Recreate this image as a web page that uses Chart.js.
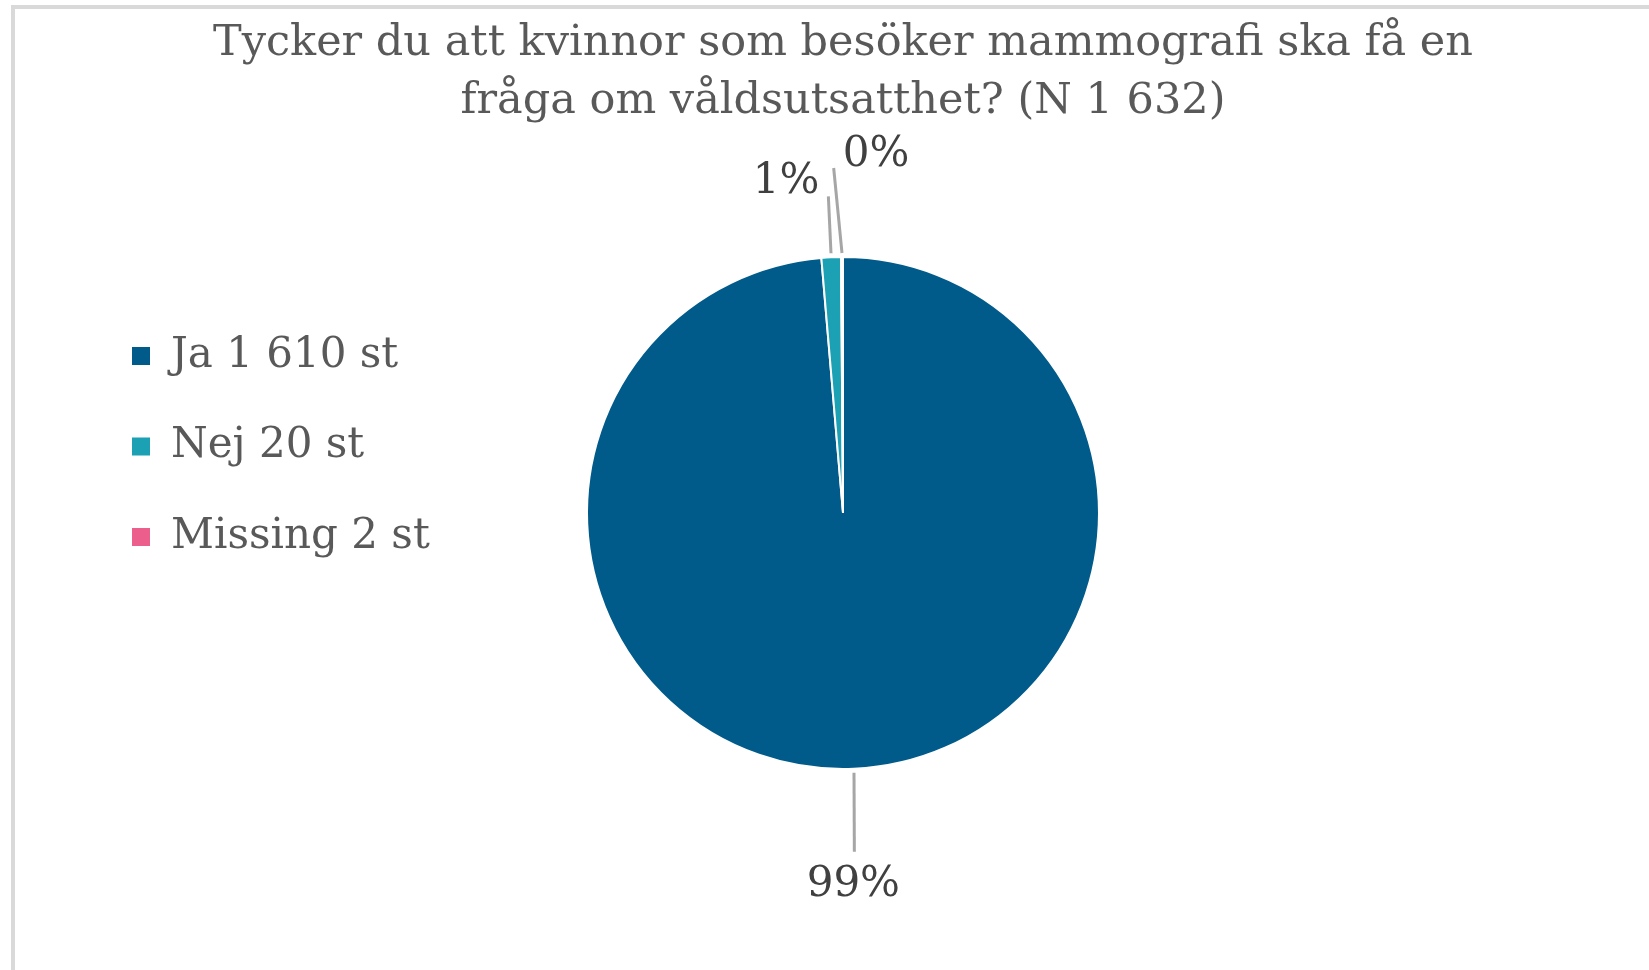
<!DOCTYPE html>
<html>
<head>
<meta charset="utf-8">
<script src="https://cdn.jsdelivr.net/npm/chart.js@4.4.1/dist/chart.umd.min.js"></script>
<style>
  html, body { margin: 0; padding: 0; background: #fff; overflow: hidden; }
  #frame {
    position: absolute; left: 11px; top: 5px;
    border: 4px solid #d9d9d9; background: #fff;
    width: 1656px; height: 965px;
  }
  #chart { display: block; }
</style>
</head>
<body>
<div id="frame"><canvas id="chart" width="1656" height="965"></canvas></div>
<script>
// ── data ─────────────────────────────────────────────
const titleLines = [
  "Tycker du att kvinnor som besöker mammografi ska få en",
  "fråga om våldsutsatthet? (N 1 632)"
];
const categories = ["Ja 1 610 st", "Nej 20 st", "Missing 2 st"];
const counts     = [1610, 20, 2];
const colors     = ["#005a8a", "#1ba0b4", "#ec5f8c"];

const SERIF = "'DejaVu Serif', 'Liberation Serif', serif";

// leader line + label placement per slice (offsets from the outer edge)
const labelLayout = [
  { a: 4, b: 83, ex: -3, tx: -1, ty: 33, align: "center" },
  { a: 4, b: 61, ex: 0,  tx: -9, ty: -14, align: "right" },
  { a: 4, b: 89, ex: -8, tx: 9,  ty: -13, align: "left" },
];

// ── percent labels with leader lines ─────────────────
const pctLabels = {
  id: "pctLabels",
  afterDatasetsDraw(chart, args, opts) {
    const ctx = chart.ctx;
    const meta = chart.getDatasetMeta(0);
    const data = chart.data.datasets[0].data;
    const total = data.reduce((s, v) => s + v, 0);
    ctx.save();
    meta.data.forEach((arc, i) => {
      const p = arc.getProps(["x", "y", "startAngle", "endAngle", "outerRadius"], true);
      const mid = (p.startAngle + p.endAngle) / 2;
      const L = opts.layout[i];
      const cos = Math.cos(mid), sin = Math.sin(mid);
      const x1 = p.x + cos * (p.outerRadius + L.a), y1 = p.y + sin * (p.outerRadius + L.a);
      const x2 = p.x + cos * (p.outerRadius + L.b) + L.ex, y2 = p.y + sin * (p.outerRadius + L.b);
      ctx.strokeStyle = "#a6a6a6";
      ctx.lineWidth = 3;
      ctx.beginPath();
      ctx.moveTo(x1, y1);
      ctx.lineTo(x2, y2);
      ctx.stroke();
      ctx.fillStyle = "#404040";
      ctx.font = "42px " + SERIF;
      ctx.textAlign = L.align;
      ctx.textBaseline = "middle";
      ctx.fillText(Math.round(data[i] / total * 100) + "%", x2 + L.tx, y2 + L.ty);
    });
    ctx.restore();
  }
};

new Chart(document.getElementById("chart"), {
  type: "pie",
  data: {
    labels: categories,
    datasets: [{
      data: counts,
      backgroundColor: colors,
      borderColor: "#ffffff",
      borderWidth: 2,
    }],
  },
  options: {
    responsive: false,
    animation: false,
    radius: 256,
    layout: { padding: { left: 68.5, right: 68.5, top: 0, bottom: 98 } },
    plugins: {
      tooltip: { enabled: false },
      title: {
        display: true,
        text: titleLines,
        color: "#595959",
        font: { family: SERIF, size: 43, weight: "normal", lineHeight: 58 / 43 },
        padding: { top: 6, bottom: 19 },
      },
      legend: {
        position: "chartArea",
        align: "start",
        // empty legend title used only as a spacer above the items
        title: { display: true, text: "", padding: { top: 277.5, bottom: 0 }, font: { size: 1, lineHeight: 0 } },
        labels: {
          color: "#595959",
          font: { family: SERIF, size: 42 },
          boxWidth: 18,
          boxHeight: 18,
          padding: 48.5,
          generateLabels(chart) {
            const items = Chart.overrides.pie.plugins.legend.labels.generateLabels(chart);
            items.forEach(it => { it.lineWidth = 0; it.strokeStyle = it.fillStyle; });
            return items;
          },
        },
      },
      pctLabels: { layout: labelLayout },
    },
  },
  plugins: [pctLabels],
});
</script>
</body>
</html>
